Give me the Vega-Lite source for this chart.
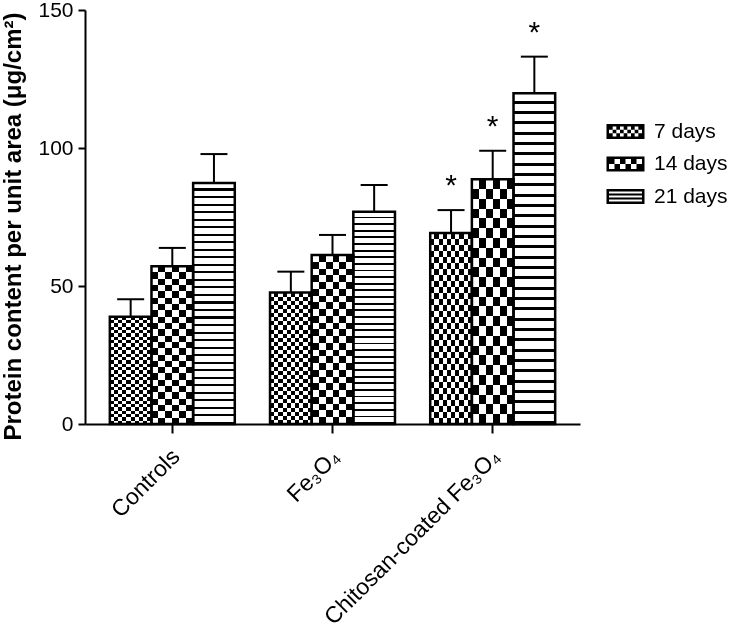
{
  "$schema": "https://vega.github.io/schema/vega-lite/v6.json",
  "width": 495,
  "height": 414,
  "autosize": {"type": "none"},
  "padding": {"left": 85, "top": 10, "right": 161, "bottom": 205},
  "background": "white",
  "config": {
    "view": {"stroke": null},
    "font": "Liberation Sans",
    "axis": {"grid": false, "domainColor": "#000", "tickColor": "#000", "labelColor": "#000", "titleColor": "#000", "labelFont": "Liberation Sans", "titleFont": "Liberation Sans"}
  },
  "data": {
    "values": [
      {"group": "Controls", "days": "7 days", "mean": 38.9, "upper": 45.2, "sig": false},
      {"group": "Controls", "days": "14 days", "mean": 57.2, "upper": 63.8, "sig": false},
      {"group": "Controls", "days": "21 days", "mean": 87.3, "upper": 97.8, "sig": false},
      {"group": "Fe₃O₄", "days": "7 days", "mean": 47.6, "upper": 55.2, "sig": false},
      {"group": "Fe₃O₄", "days": "14 days", "mean": 61.2, "upper": 68.5, "sig": false},
      {"group": "Fe₃O₄", "days": "21 days", "mean": 76.9, "upper": 86.6, "sig": false},
      {"group": "Chitosan-coated Fe₃O₄", "days": "7 days", "mean": 69.2, "upper": 77.5, "sig": true},
      {"group": "Chitosan-coated Fe₃O₄", "days": "14 days", "mean": 88.7, "upper": 99.0, "sig": true},
      {"group": "Chitosan-coated Fe₃O₄", "days": "21 days", "mean": 119.8, "upper": 133.1, "sig": true}
    ]
  },
  "encoding": {
    "x": {
      "field": "group", "type": "nominal",
      "sort": ["Controls", "Fe₃O₄", "Chitosan-coated Fe₃O₄"],
      "scale": {"paddingInner": 0.22, "paddingOuter": 0.155},
      "axis": {"title": null, "labelAngle": -45, "labelFontSize": 23, "labelLimit": 500, "domainWidth": 2, "tickWidth": 2, "tickSize": 9, "labelPadding": 12, "labelOffset": -4}
    },
    "xOffset": {
      "field": "days", "type": "nominal",
      "scale": {"domain": ["7 days", "14 days", "21 days"], "paddingInner": 0, "paddingOuter": 0}
    },
    "y": {
      "field": "mean", "type": "quantitative",
      "title": "Protein content per unit area (μg/cm²)",
      "scale": {"domain": [0, 150], "nice": false},
      "axis": {"values": [0, 50, 100, 150], "labelFontSize": 21, "titleFontSize": 24, "titleFontWeight": "bold", "titleY": 216, "domainWidth": 2, "tickWidth": 2, "tickSize": 7, "labelPadding": 5, "titlePadding": 12}
    }
  },
  "layer": [
    {
      "transform": [{"filter": "datum.days === '7 days'"}],
      "mark": {"type": "bar", "fill": {"gradient": "linear", "x1": 0, "y1": 0, "x2": 1, "y2": 0, "stops": [
        {"offset": 0, "color": "#fff"}, {"offset": 0.1, "color": "#fff"}, {"offset": 0.1, "color": "#000"}, {"offset": 0.2, "color": "#000"},
        {"offset": 0.2, "color": "#fff"}, {"offset": 0.3, "color": "#fff"}, {"offset": 0.3, "color": "#000"}, {"offset": 0.4, "color": "#000"},
        {"offset": 0.4, "color": "#fff"}, {"offset": 0.5, "color": "#fff"}, {"offset": 0.5, "color": "#000"}, {"offset": 0.6, "color": "#000"},
        {"offset": 0.6, "color": "#fff"}, {"offset": 0.7, "color": "#fff"}, {"offset": 0.7, "color": "#000"}, {"offset": 0.8, "color": "#000"},
        {"offset": 0.8, "color": "#fff"}, {"offset": 0.9, "color": "#fff"}, {"offset": 0.9, "color": "#000"}, {"offset": 1, "color": "#000"}
      ]}}
    },
    {
      "transform": [{"filter": "datum.days === '7 days'"}],
      "mark": {"type": "bar", "blend": "difference", "fill": {"gradient": "linear", "x1": 0, "y1": 0, "x2": 0, "y2": 1, "stops": [
        {"offset": 0, "color": "#000"}, {"offset": 0.03125, "color": "#000"}, {"offset": 0.03125, "color": "#fff"}, {"offset": 0.0625, "color": "#fff"},
        {"offset": 0.0625, "color": "#000"}, {"offset": 0.09375, "color": "#000"}, {"offset": 0.09375, "color": "#fff"}, {"offset": 0.125, "color": "#fff"},
        {"offset": 0.125, "color": "#000"}, {"offset": 0.15625, "color": "#000"}, {"offset": 0.15625, "color": "#fff"}, {"offset": 0.1875, "color": "#fff"},
        {"offset": 0.1875, "color": "#000"}, {"offset": 0.21875, "color": "#000"}, {"offset": 0.21875, "color": "#fff"}, {"offset": 0.25, "color": "#fff"},
        {"offset": 0.25, "color": "#000"}, {"offset": 0.28125, "color": "#000"}, {"offset": 0.28125, "color": "#fff"}, {"offset": 0.3125, "color": "#fff"},
        {"offset": 0.3125, "color": "#000"}, {"offset": 0.34375, "color": "#000"}, {"offset": 0.34375, "color": "#fff"}, {"offset": 0.375, "color": "#fff"},
        {"offset": 0.375, "color": "#000"}, {"offset": 0.40625, "color": "#000"}, {"offset": 0.40625, "color": "#fff"}, {"offset": 0.4375, "color": "#fff"},
        {"offset": 0.4375, "color": "#000"}, {"offset": 0.46875, "color": "#000"}, {"offset": 0.46875, "color": "#fff"}, {"offset": 0.5, "color": "#fff"},
        {"offset": 0.5, "color": "#000"}, {"offset": 0.53125, "color": "#000"}, {"offset": 0.53125, "color": "#fff"}, {"offset": 0.5625, "color": "#fff"},
        {"offset": 0.5625, "color": "#000"}, {"offset": 0.59375, "color": "#000"}, {"offset": 0.59375, "color": "#fff"}, {"offset": 0.625, "color": "#fff"},
        {"offset": 0.625, "color": "#000"}, {"offset": 0.65625, "color": "#000"}, {"offset": 0.65625, "color": "#fff"}, {"offset": 0.6875, "color": "#fff"},
        {"offset": 0.6875, "color": "#000"}, {"offset": 0.71875, "color": "#000"}, {"offset": 0.71875, "color": "#fff"}, {"offset": 0.75, "color": "#fff"},
        {"offset": 0.75, "color": "#000"}, {"offset": 0.78125, "color": "#000"}, {"offset": 0.78125, "color": "#fff"}, {"offset": 0.8125, "color": "#fff"},
        {"offset": 0.8125, "color": "#000"}, {"offset": 0.84375, "color": "#000"}, {"offset": 0.84375, "color": "#fff"}, {"offset": 0.875, "color": "#fff"},
        {"offset": 0.875, "color": "#000"}, {"offset": 0.90625, "color": "#000"}, {"offset": 0.90625, "color": "#fff"}, {"offset": 0.9375, "color": "#fff"},
        {"offset": 0.9375, "color": "#000"}, {"offset": 0.96875, "color": "#000"}, {"offset": 0.96875, "color": "#fff"}, {"offset": 1, "color": "#fff"}
      ]}}
    },
    {
      "transform": [{"filter": "datum.days === '14 days'"}],
      "mark": {"type": "bar", "fill": {"gradient": "linear", "x1": 0, "y1": 0, "x2": 1, "y2": 0, "stops": [
        {"offset": 0, "color": "#fff"}, {"offset": 0.166667, "color": "#fff"}, {"offset": 0.166667, "color": "#000"}, {"offset": 0.333333, "color": "#000"},
        {"offset": 0.333333, "color": "#fff"}, {"offset": 0.5, "color": "#fff"}, {"offset": 0.5, "color": "#000"}, {"offset": 0.666667, "color": "#000"},
        {"offset": 0.666667, "color": "#fff"}, {"offset": 0.833333, "color": "#fff"}, {"offset": 0.833333, "color": "#000"}, {"offset": 1, "color": "#000"}
      ]}}
    },
    {
      "transform": [{"filter": "datum.days === '14 days'"}],
      "mark": {"type": "bar", "blend": "difference", "fill": {"gradient": "linear", "x1": 0, "y1": 0, "x2": 0, "y2": 1, "stops": [
        {"offset": 0, "color": "#000"}, {"offset": 0.04, "color": "#000"}, {"offset": 0.04, "color": "#fff"}, {"offset": 0.08, "color": "#fff"},
        {"offset": 0.08, "color": "#000"}, {"offset": 0.12, "color": "#000"}, {"offset": 0.12, "color": "#fff"}, {"offset": 0.16, "color": "#fff"},
        {"offset": 0.16, "color": "#000"}, {"offset": 0.2, "color": "#000"}, {"offset": 0.2, "color": "#fff"}, {"offset": 0.24, "color": "#fff"},
        {"offset": 0.24, "color": "#000"}, {"offset": 0.28, "color": "#000"}, {"offset": 0.28, "color": "#fff"}, {"offset": 0.32, "color": "#fff"},
        {"offset": 0.32, "color": "#000"}, {"offset": 0.36, "color": "#000"}, {"offset": 0.36, "color": "#fff"}, {"offset": 0.4, "color": "#fff"},
        {"offset": 0.4, "color": "#000"}, {"offset": 0.44, "color": "#000"}, {"offset": 0.44, "color": "#fff"}, {"offset": 0.48, "color": "#fff"},
        {"offset": 0.48, "color": "#000"}, {"offset": 0.52, "color": "#000"}, {"offset": 0.52, "color": "#fff"}, {"offset": 0.56, "color": "#fff"},
        {"offset": 0.56, "color": "#000"}, {"offset": 0.6, "color": "#000"}, {"offset": 0.6, "color": "#fff"}, {"offset": 0.64, "color": "#fff"},
        {"offset": 0.64, "color": "#000"}, {"offset": 0.68, "color": "#000"}, {"offset": 0.68, "color": "#fff"}, {"offset": 0.72, "color": "#fff"},
        {"offset": 0.72, "color": "#000"}, {"offset": 0.76, "color": "#000"}, {"offset": 0.76, "color": "#fff"}, {"offset": 0.8, "color": "#fff"},
        {"offset": 0.8, "color": "#000"}, {"offset": 0.84, "color": "#000"}, {"offset": 0.84, "color": "#fff"}, {"offset": 0.88, "color": "#fff"},
        {"offset": 0.88, "color": "#000"}, {"offset": 0.92, "color": "#000"}, {"offset": 0.92, "color": "#fff"}, {"offset": 0.96, "color": "#fff"},
        {"offset": 0.96, "color": "#000"}, {"offset": 1, "color": "#000"}
      ]}}
    },
    {
      "transform": [{"filter": "datum.days === '21 days'"}],
      "mark": {"type": "bar", "fill": {"gradient": "linear", "x1": 0, "y1": 0, "x2": 0, "y2": 1, "stops": [
        {"offset": 0, "color": "#fff"}, {"offset": 0.0225, "color": "#fff"}, {"offset": 0.0225, "color": "#000"}, {"offset": 0.03125, "color": "#000"},
        {"offset": 0.03125, "color": "#fff"}, {"offset": 0.05375, "color": "#fff"}, {"offset": 0.05375, "color": "#000"}, {"offset": 0.0625, "color": "#000"},
        {"offset": 0.0625, "color": "#fff"}, {"offset": 0.085, "color": "#fff"}, {"offset": 0.085, "color": "#000"}, {"offset": 0.09375, "color": "#000"},
        {"offset": 0.09375, "color": "#fff"}, {"offset": 0.11625, "color": "#fff"}, {"offset": 0.11625, "color": "#000"}, {"offset": 0.125, "color": "#000"},
        {"offset": 0.125, "color": "#fff"}, {"offset": 0.1475, "color": "#fff"}, {"offset": 0.1475, "color": "#000"}, {"offset": 0.15625, "color": "#000"},
        {"offset": 0.15625, "color": "#fff"}, {"offset": 0.17875, "color": "#fff"}, {"offset": 0.17875, "color": "#000"}, {"offset": 0.1875, "color": "#000"},
        {"offset": 0.1875, "color": "#fff"}, {"offset": 0.21, "color": "#fff"}, {"offset": 0.21, "color": "#000"}, {"offset": 0.21875, "color": "#000"},
        {"offset": 0.21875, "color": "#fff"}, {"offset": 0.24125, "color": "#fff"}, {"offset": 0.24125, "color": "#000"}, {"offset": 0.25, "color": "#000"},
        {"offset": 0.25, "color": "#fff"}, {"offset": 0.2725, "color": "#fff"}, {"offset": 0.2725, "color": "#000"}, {"offset": 0.28125, "color": "#000"},
        {"offset": 0.28125, "color": "#fff"}, {"offset": 0.30375, "color": "#fff"}, {"offset": 0.30375, "color": "#000"}, {"offset": 0.3125, "color": "#000"},
        {"offset": 0.3125, "color": "#fff"}, {"offset": 0.335, "color": "#fff"}, {"offset": 0.335, "color": "#000"}, {"offset": 0.34375, "color": "#000"},
        {"offset": 0.34375, "color": "#fff"}, {"offset": 0.36625, "color": "#fff"}, {"offset": 0.36625, "color": "#000"}, {"offset": 0.375, "color": "#000"},
        {"offset": 0.375, "color": "#fff"}, {"offset": 0.3975, "color": "#fff"}, {"offset": 0.3975, "color": "#000"}, {"offset": 0.40625, "color": "#000"},
        {"offset": 0.40625, "color": "#fff"}, {"offset": 0.42875, "color": "#fff"}, {"offset": 0.42875, "color": "#000"}, {"offset": 0.4375, "color": "#000"},
        {"offset": 0.4375, "color": "#fff"}, {"offset": 0.46, "color": "#fff"}, {"offset": 0.46, "color": "#000"}, {"offset": 0.46875, "color": "#000"},
        {"offset": 0.46875, "color": "#fff"}, {"offset": 0.49125, "color": "#fff"}, {"offset": 0.49125, "color": "#000"}, {"offset": 0.5, "color": "#000"},
        {"offset": 0.5, "color": "#fff"}, {"offset": 0.5225, "color": "#fff"}, {"offset": 0.5225, "color": "#000"}, {"offset": 0.53125, "color": "#000"},
        {"offset": 0.53125, "color": "#fff"}, {"offset": 0.55375, "color": "#fff"}, {"offset": 0.55375, "color": "#000"}, {"offset": 0.5625, "color": "#000"},
        {"offset": 0.5625, "color": "#fff"}, {"offset": 0.585, "color": "#fff"}, {"offset": 0.585, "color": "#000"}, {"offset": 0.59375, "color": "#000"},
        {"offset": 0.59375, "color": "#fff"}, {"offset": 0.61625, "color": "#fff"}, {"offset": 0.61625, "color": "#000"}, {"offset": 0.625, "color": "#000"},
        {"offset": 0.625, "color": "#fff"}, {"offset": 0.6475, "color": "#fff"}, {"offset": 0.6475, "color": "#000"}, {"offset": 0.65625, "color": "#000"},
        {"offset": 0.65625, "color": "#fff"}, {"offset": 0.67875, "color": "#fff"}, {"offset": 0.67875, "color": "#000"}, {"offset": 0.6875, "color": "#000"},
        {"offset": 0.6875, "color": "#fff"}, {"offset": 0.71, "color": "#fff"}, {"offset": 0.71, "color": "#000"}, {"offset": 0.71875, "color": "#000"},
        {"offset": 0.71875, "color": "#fff"}, {"offset": 0.74125, "color": "#fff"}, {"offset": 0.74125, "color": "#000"}, {"offset": 0.75, "color": "#000"},
        {"offset": 0.75, "color": "#fff"}, {"offset": 0.7725, "color": "#fff"}, {"offset": 0.7725, "color": "#000"}, {"offset": 0.78125, "color": "#000"},
        {"offset": 0.78125, "color": "#fff"}, {"offset": 0.80375, "color": "#fff"}, {"offset": 0.80375, "color": "#000"}, {"offset": 0.8125, "color": "#000"},
        {"offset": 0.8125, "color": "#fff"}, {"offset": 0.835, "color": "#fff"}, {"offset": 0.835, "color": "#000"}, {"offset": 0.84375, "color": "#000"},
        {"offset": 0.84375, "color": "#fff"}, {"offset": 0.86625, "color": "#fff"}, {"offset": 0.86625, "color": "#000"}, {"offset": 0.875, "color": "#000"},
        {"offset": 0.875, "color": "#fff"}, {"offset": 0.8975, "color": "#fff"}, {"offset": 0.8975, "color": "#000"}, {"offset": 0.90625, "color": "#000"},
        {"offset": 0.90625, "color": "#fff"}, {"offset": 0.92875, "color": "#fff"}, {"offset": 0.92875, "color": "#000"}, {"offset": 0.9375, "color": "#000"},
        {"offset": 0.9375, "color": "#fff"}, {"offset": 0.96, "color": "#fff"}, {"offset": 0.96, "color": "#000"}, {"offset": 0.96875, "color": "#000"},
        {"offset": 0.96875, "color": "#fff"}, {"offset": 0.99125, "color": "#fff"}, {"offset": 0.99125, "color": "#000"}, {"offset": 1, "color": "#000"}
      ]}}
    },
    {
      "mark": {"type": "bar", "fill": "transparent", "stroke": "#000", "strokeWidth": 2.5}
    },
    {
      "mark": {"type": "rule", "color": "#000", "strokeWidth": 2},
      "encoding": {"y2": {"field": "upper"}}
    },
    {
      "mark": {"type": "tick", "color": "#000", "thickness": 2, "size": 27, "opacity": 1},
      "encoding": {"y": {"field": "upper", "type": "quantitative", "title": "Protein content per unit area (μg/cm²)"}}
    },
    {
      "transform": [{"filter": "datum.sig"}],
      "mark": {"type": "text", "text": "*", "fontSize": 30, "baseline": "alphabetic", "dy": -15, "color": "#000", "font": "Liberation Sans"},
      "encoding": {"y": {"field": "upper", "type": "quantitative", "title": "Protein content per unit area (μg/cm²)"}}
    },
    {
      "mark": {"type": "point", "filled": true, "color": "#000", "opacity": 0},
      "encoding": {
        "shape": {
          "field": "days", "type": "nominal",
          "scale": {
            "domain": ["7 days", "14 days", "21 days"],
            "range": [
              "M-3.8,-1.5H3.8V1.5H-3.8Z M-3.3,-1V1H3.3V-1Z M-3.3,-1h0.7333v0.6667h-0.7333Z M-1.8333,-1h0.7333v0.6667h-0.7333Z M-0.3667,-1h0.7333v0.6667h-0.7333Z M1.1,-1h0.7333v0.6667h-0.7333Z M2.5667,-1h0.7333v0.6667h-0.7333Z M-2.5667,-0.3333h0.7333v0.6667h-0.7333Z M-1.1,-0.3333h0.7333v0.6667h-0.7333Z M0.3667,-0.3333h0.7333v0.6667h-0.7333Z M1.8333,-0.3333h0.7333v0.6667h-0.7333Z M-3.3,0.3333h0.7333v0.6667h-0.7333Z M-1.8333,0.3333h0.7333v0.6667h-0.7333Z M-0.3667,0.3333h0.7333v0.6667h-0.7333Z M1.1,0.3333h0.7333v0.6667h-0.7333Z M2.5667,0.3333h0.7333v0.6667h-0.7333Z",
              "M-3.8,-1.5H3.8V1.5H-3.8Z M-3.3,-1V1H3.3V-1Z M-3.3,-1h1.1v1h-1.1Z M-1.1,-1h1.1v1h-1.1Z M1.1,-1h1.1v1h-1.1Z M-2.2,0h1.1v1h-1.1Z M0,0h1.1v1h-1.1Z M2.2,0h1.1v1h-1.1Z",
              "M-3.8,-1.5H3.8V1.5H-3.8Z M-3.3,-1V1H3.3V-1Z M-3.3,-0.6H3.3V-0.2H-3.3Z M-3.3,0.2H3.3V0.6H-3.3Z"
            ]
          },
          "legend": {
            "title": null, "orient": "none", "legendX": 530, "legendY": 111,
            "symbolSize": 100, "symbolOpacity": 1, "symbolStrokeWidth": 0, "symbolFillColor": "#000",
            "labelFont": "Liberation Sans", "labelFontSize": 21, "labelColor": "#000", "labelOffset": 18, "rowPadding": 10.5, "labelLimit": 200
          }
        }
      }
    }
  ]
}
